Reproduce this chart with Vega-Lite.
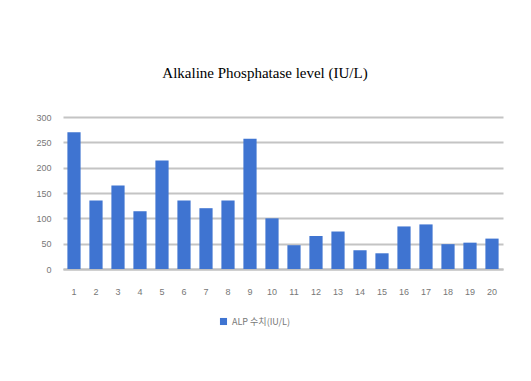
{
  "$schema": "https://vega.github.io/schema/vega-lite/v6.json",
  "width": 440,
  "height": 152,
  "autosize": "none",
  "padding": {"left": 63, "top": 117, "right": 28, "bottom": 112},
  "background": "white",
  "title": {
    "text": "Alkaline Phosphatase level (IU/L)",
    "font": "Liberation Serif",
    "fontSize": 15,
    "fontWeight": "normal",
    "color": "#000000",
    "anchor": "middle",
    "dx": -18,
    "offset": 32
  },
  "data": {
    "values": [
      {"n": "1", "v": 270, "s": "ALP 수치(IU/L)"},
      {"n": "2", "v": 135, "s": "ALP 수치(IU/L)"},
      {"n": "3", "v": 165, "s": "ALP 수치(IU/L)"},
      {"n": "4", "v": 114, "s": "ALP 수치(IU/L)"},
      {"n": "5", "v": 214, "s": "ALP 수치(IU/L)"},
      {"n": "6", "v": 135, "s": "ALP 수치(IU/L)"},
      {"n": "7", "v": 120, "s": "ALP 수치(IU/L)"},
      {"n": "8", "v": 135, "s": "ALP 수치(IU/L)"},
      {"n": "9", "v": 257, "s": "ALP 수치(IU/L)"},
      {"n": "10", "v": 100, "s": "ALP 수치(IU/L)"},
      {"n": "11", "v": 47, "s": "ALP 수치(IU/L)"},
      {"n": "12", "v": 65, "s": "ALP 수치(IU/L)"},
      {"n": "13", "v": 74, "s": "ALP 수치(IU/L)"},
      {"n": "14", "v": 37, "s": "ALP 수치(IU/L)"},
      {"n": "15", "v": 31, "s": "ALP 수치(IU/L)"},
      {"n": "16", "v": 84, "s": "ALP 수치(IU/L)"},
      {"n": "17", "v": 88, "s": "ALP 수치(IU/L)"},
      {"n": "18", "v": 49, "s": "ALP 수치(IU/L)"},
      {"n": "19", "v": 52, "s": "ALP 수치(IU/L)"},
      {"n": "20", "v": 60, "s": "ALP 수치(IU/L)"}
    ]
  },
  "mark": {"type": "bar"},
  "encoding": {
    "x": {
      "field": "n",
      "type": "ordinal",
      "sort": null,
      "title": null,
      "scale": {"paddingInner": 0.4, "paddingOuter": 0.2},
      "axis": {
        "labelAngle": 0,
        "ticks": false,
        "domainColor": "#c0c0c0",
        "domainWidth": 2,
        "labelColor": "#777777",
        "labelFontSize": 9,
        "labelPadding": 18
      }
    },
    "y": {
      "field": "v",
      "type": "quantitative",
      "title": null,
      "scale": {"domain": [0, 300]},
      "axis": {
        "values": [0, 50, 100, 150, 200, 250, 300],
        "domain": false,
        "ticks": false,
        "gridColor": "#c4c4c4",
        "gridWidth": 2,
        "labelColor": "#777777",
        "labelFontSize": 9,
        "labelPadding": 12
      }
    },
    "color": {
      "field": "s",
      "type": "nominal",
      "scale": {"range": ["#3f74d1"]},
      "legend": {
        "title": null,
        "orient": "none",
        "legendX": 156,
        "legendY": 200,
        "symbolType": "square",
        "symbolSize": 50,
        "labelFont": "Noto Sans CJK KR",
        "labelFontSize": 9,
        "labelColor": "#777777"
      }
    }
  },
  "config": {
    "view": {"stroke": null},
    "font": "Liberation Sans"
  }
}
